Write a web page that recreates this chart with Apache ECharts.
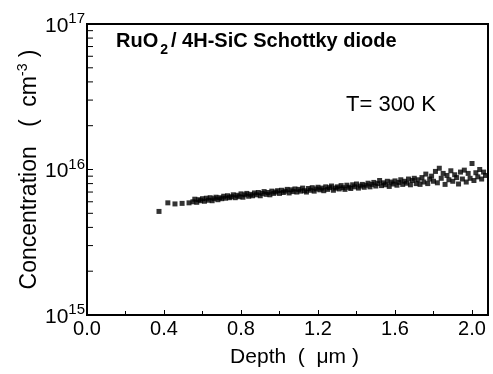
<!DOCTYPE html>
<html><head><meta charset="utf-8">
<script src="https://cdn.jsdelivr.net/npm/echarts@6/dist/echarts.min.js"></script>
<style>html,body{margin:0;padding:0;background:#fff}#c{width:493px;height:374px}</style>
</head><body><div id="c"></div>
<script>
// Depth (µm) and carrier concentration (units of 1e15 cm^-3)
const depthSparse = [0.374, 0.42, 0.457, 0.494, 0.53];
const concSparse = [5.15, 5.9, 5.8, 5.85, 5.9];
const depthDense = [
0.55,0.56,0.57,0.58,0.59,0.60,0.61,0.62,0.63,0.64,0.65,0.66,0.67,0.68,0.69,
0.70,0.71,0.72,0.73,0.74,0.75,0.76,0.77,0.78,0.79,0.80,0.81,0.82,0.83,0.84,
0.85,0.86,0.87,0.88,0.89,0.90,0.91,0.92,0.93,0.94,0.95,0.96,0.97,0.98,0.99,
1.00,1.01,1.02,1.03,1.04,1.05,1.06,1.07,1.08,1.09,1.10,1.11,1.12,1.13,1.14,
1.15,1.16,1.17,1.18,1.19,1.20,1.21,1.22,1.23,1.24,1.25,1.26,1.27,1.28,1.29,
1.30,1.31,1.32,1.33,1.34,1.35,1.36,1.37,1.38,1.39,1.40,1.41,1.42,1.43,1.44,
1.45,1.46,1.47,1.48,1.49,1.50,1.51,1.52,1.53,1.54,1.55,1.56,1.57,1.58,1.59,
1.60,1.61,1.62,1.63,1.64,1.65,1.66,1.67,1.68,1.69,1.70,1.71,1.72,1.73,1.74,
1.75,1.76,1.77,1.78,1.79,1.80,1.81,1.82,1.83,1.84,1.85,1.86,1.87,1.88,1.89,
1.90,1.91,1.92,1.93,1.94,1.95,1.96,1.97,1.98,1.99,2.00,2.01,2.02,2.03,2.04,
2.05,2.06,2.07];
const concDense = [
6.0,6.25,5.95,6.2,6.1,6.3,6.05,6.35,6.15,6.4,6.1,6.3,6.45,6.2,6.4,
6.3,6.55,6.35,6.6,6.4,6.5,6.7,6.4,6.65,6.5,6.8,6.45,6.7,6.85,6.55,
6.75,6.6,6.9,6.7,6.95,6.6,6.85,7.05,6.75,6.95,6.7,7.1,6.85,7.0,7.15,
6.85,7.2,6.95,7.1,7.3,6.9,7.25,7.05,7.35,7.0,7.3,7.1,7.45,7.15,7.0,
7.4,7.2,7.5,7.1,7.35,7.55,7.25,7.45,7.15,7.6,7.3,7.5,7.7,7.2,7.45,
7.6,7.35,7.75,7.5,7.3,7.8,7.55,7.4,7.85,7.6,7.95,7.45,7.7,7.9,7.55,
7.8,8.05,7.6,7.9,8.15,7.7,8.0,8.4,7.75,8.1,7.85,8.3,7.65,8.2,7.95,
8.35,7.8,8.15,8.5,7.9,8.3,8.05,8.6,7.85,8.4,8.7,8.0,8.5,7.9,8.8,
8.2,9.3,8.0,8.6,9.0,8.3,9.7,8.1,10.2,8.7,9.4,7.9,9.1,8.5,9.8,
8.3,9.2,8.8,7.95,9.6,8.6,9.9,8.2,9.4,8.7,11.0,8.4,9.5,8.9,10.0,
8.6,9.6,9.1];
const xTicks = [0.0, 0.4, 0.8, 1.2, 1.6, 2.0];
const yMinorTicks = [2,3,4,5,6,7,8,9,20,30,40,50,60,70,80,90];

const pts = [];
depthSparse.forEach((d,i)=>pts.push([d, concSparse[i]*1e15]));
depthDense.forEach((d,i)=>pts.push([d, concDense[i]*1e15]));

const FONT = '"Liberation Sans", Arial, sans-serif';
const chart = echarts.init(document.getElementById('c'), null, {renderer:'canvas'});
chart.setOption({
  animation: false,
  backgroundColor: '#fff',
  grid: {left: 87, right: 5, top: 24, bottom: 59, show: true, borderColor: '#000', borderWidth: 2, containLabel: false},
  xAxis: {
    type: 'value', min: 0, max: 2.083, interval: 0.4,
    axisLine: {show: true, lineStyle: {color: '#000', width: 2}},
    axisTick: {show: true, inside: true, length: 5, lineStyle: {color: '#000', width: 1}},
    minorTick: {show: true, splitNumber: 2, length: 4, lineStyle: {color: '#000', width: 1}},
    splitLine: {show: false},
    axisLabel: {color: '#000', fontFamily: FONT, fontSize: 20, margin: 4, showMaxLabel: false,
      formatter: v => v.toFixed(1)},
    name: 'Depth  (  \u03bcm )', nameLocation: 'middle', nameGap: 32,
    nameTextStyle: {color: '#000', fontFamily: FONT, fontSize: 21, padding: [0,0,0,14]}
  },
  yAxis: {
    type: 'log', logBase: 10, min: 1e15, max: 1e17,
    axisLine: {show: true, lineStyle: {color: '#000', width: 2}},
    axisTick: {show: true, inside: true, length: 6, lineStyle: {color: '#000', width: 1}},
    splitLine: {show: false},
    axisLabel: {color: '#000', fontFamily: FONT, margin: 2,
      formatter: v => '{b|10}{s|' + Math.round(Math.log10(v)) + '}',
      rich: {b: {fontSize: 21, fontFamily: FONT, color: '#000', verticalAlign: 'bottom'},
             s: {fontSize: 15, fontFamily: FONT, color: '#000', verticalAlign: 'top', padding: [0,0,10,0]}}},
    name: '{a|Concentration   (  cm}{s|-3}{a| )}', nameLocation: 'middle', nameGap: 44,
    nameMoveOverlap: false,
    nameTextStyle: {rich: {a: {fontSize: 23, fontFamily: FONT, color: '#000'},
                           s: {fontSize: 14, fontFamily: FONT, color: '#000', padding: [0,0,13,0]}}}
  },
  series: [
    {type: 'scatter', data: pts, symbol: 'rect', symbolSize: 5, itemStyle: {color: '#000'}, clip: true},
    {type: 'custom', data: yMinorTicks.map(m => [0, m*1e15]), silent: true, clip: false,
      renderItem: (params, api) => {
        const p = api.coord([0, api.value(1)]);
        return {type: 'line', shape: {x1: p[0], y1: p[1], x2: p[0] + 6, y2: p[1]},
                style: {stroke: '#000', lineWidth: 1}};
      }}
  ],
  graphic: [
    {type: 'text', left: 116, top: 31, style: {
      text: '{t|RuO}{sub|2}{t|/ 4H-SiC Schottky diode}',
      rich: {t: {fontSize: 20, fontWeight: 'bold', fontFamily: FONT, fill: '#000'},
             sub: {fontSize: 14, fontWeight: 'bold', fontFamily: FONT, fill: '#000', padding: [18,3,0,2]}}}},
    {type: 'text', left: 346, top: 94, style: {text: 'T= 300 K', fontSize: 22, fontFamily: FONT, fill: '#000'}}
  ]
});
</script></body></html>
